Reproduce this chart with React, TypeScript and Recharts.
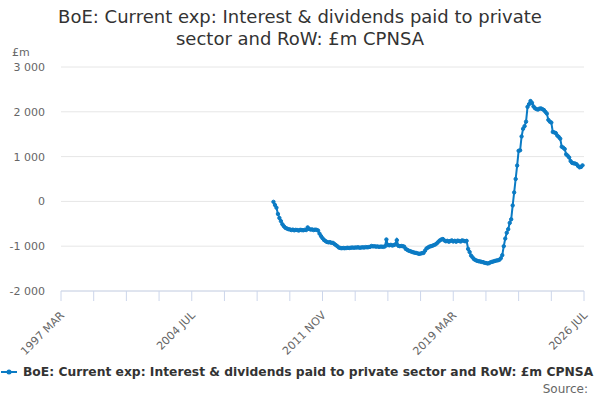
import React from 'react';
import { LineChart, Line, XAxis, YAxis, CartesianGrid } from 'recharts';

// monthly categories 1997 MAR .. 2026 JUL
const MONTHS = ['JAN', 'FEB', 'MAR', 'APR', 'MAY', 'JUN', 'JUL', 'AUG', 'SEP', 'OCT', 'NOV', 'DEC'];
const categories: string[] = [];
for (let y = 1997; y <= 2026; y++) {
  for (let m = 0; m < 12; m++) {
    if (y === 1997 && m < 2) continue;
    if (y === 2026 && m > 6) continue;
    categories.push(`${y} ${MONTHS[m]}`);
  }
}

// first observed month index (2009 FEB)
const firstIndex = 143;

const values = [
  -10, -80, -140, -280, -370, -440, -510, -555, -590, -605,
  -620, -625, -640, -630, -645, -635, -640, -650, -635, -640,
  -645, -635, -640, -580, -615, -630, -625, -640, -630, -635,
  -650, -720, -775, -820, -860, -885, -905, -915, -910, -925,
  -925, -950, -975, -1000, -1030, -1040, -1045, -1040, -1045, -1040,
  -1035, -1040, -1035, -1030, -1035, -1030, -1030, -1025, -1035, -1030,
  -1025, -1030, -1020, -1025, -1020, -1015, -995, -1005, -1000, -1010,
  -1005, -1015, -1010, -1010, -1015, -1005, -850, -975, -980, -970,
  -985, -975, -960, -865, -990, -1000, -995, -1000, -1010, -1060,
  -1080, -1100, -1110, -1125, -1135, -1145, -1150, -1160, -1170, -1165,
  -1155, -1150, -1100, -1050, -1030, -1010, -1000, -990, -975, -960,
  -935, -900, -870, -850, -840, -870, -890, -880, -900, -885,
  -870, -895, -880, -900, -875, -885, -895, -870, -880, -890,
  -880, -1060, -1130, -1210, -1250, -1290, -1310, -1325, -1335, -1340,
  -1350, -1355, -1370, -1375, -1385, -1380, -1360, -1350, -1340, -1330,
  -1320, -1315, -1305, -1270, -1200, -1000, -830, -700, -620, -480,
  -400, -90, 200, 500, 800, 1130, 1140, 1450, 1620, 1680,
  1780, 2110, 2170, 2240, 2200, 2120, 2080, 2060, 2050, 2070,
  2075, 2060, 2040, 2000, 1960, 1820, 1780, 1760, 1550, 1540,
  1525, 1470, 1440, 1400, 1220, 1200, 1170, 1050, 1020, 980,
  900, 860, 850, 845, 830, 790, 760, 770, 805,
];

const yTicks = [-2000, -1000, 0, 1000, 2000, 3000];
const labelledTicks = ['1997 MAR', '2004 JUL', '2011 NOV', '2019 MAR', '2026 JUL'];

const SERIES_NAME = 'BoE: Current exp: Interest & dividends paid to private sector and RoW: £m CPNSA';
const BLUE = '#0b7bc4';
const FONT = '"DejaVu Sans", sans-serif';

const data = categories.map((c, i) => {
  const v = i >= firstIndex ? values[i - firstIndex] : undefined;
  return { date: c, value: v === undefined ? null : v };
});

// tick marks every 22 months
const xTicks = categories.filter((_, i) => i % 22 === 0);

const fmt = (n: number) => {
  const s = Math.abs(n).toString().replace(/\B(?=(\d{3})+(?!\d))/g, ' ');
  return n < 0 ? `-${s}` : s;
};

const XTick = (props: any) => {
  const { x, y, payload } = props;
  if (!labelledTicks.includes(payload.value)) return null;
  return (
    <text
      x={x + 4}
      y={y + 13}
      textAnchor="end"
      fontSize={11}
      fill="#666"
      fontFamily={FONT}
      transform={`rotate(-45 ${x + 4} ${y + 13})`}
    >
      {payload.value}
    </text>
  );
};

export default function App() {
  return (
    <div
      style={{
        position: 'absolute',
        left: 0,
        top: 0,
        width: 600,
        height: 400,
        background: '#fff',
        fontFamily: FONT,
      }}
    >
      <div
        style={{
          position: 'absolute',
          top: 6,
          left: 40,
          width: 520,
          textAlign: 'center',
          fontSize: 18,
          lineHeight: '22px',
          color: '#333',
        }}
      >
        BoE: Current exp: Interest &amp; dividends paid to private sector and RoW: £m CPNSA
      </div>
      <div style={{ position: 'absolute', top: 46, left: 12, fontSize: 11, color: '#666' }}>£m</div>

      <LineChart
        width={600}
        height={400}
        data={data}
        margin={{ top: 67, right: 16, bottom: 49, left: 11 }}
      >
        <CartesianGrid vertical={false} stroke="#e6e6e6" />
        <XAxis
          dataKey="date"
          ticks={xTicks}
          interval={0}
          height={60}
          stroke="#ccd6eb"
          tickSize={10}
          tick={<XTick />}
        />
        <YAxis
          width={50}
          domain={[-2000, 3000]}
          ticks={yTicks}
          axisLine={false}
          tickLine={false}
          tickMargin={10}
          tickFormatter={fmt}
          tick={{ fontSize: 11, fill: '#666', fontFamily: FONT }}
        />
        <Line
          type="linear"
          dataKey="value"
          stroke={BLUE}
          strokeWidth={2}
          dot={{ r: 1.7, fill: BLUE, stroke: BLUE, strokeWidth: 1 }}
          connectNulls={false}
          isAnimationActive={false}
        />
      </LineChart>

      <div
        style={{
          position: 'absolute',
          top: 365,
          left: 1,
          display: 'flex',
          alignItems: 'center',
          whiteSpace: 'nowrap',
          fontSize: 12.3,
          fontWeight: 'bold',
          color: '#333',
        }}
      >
        <svg width={18} height={10} style={{ marginRight: 4 }}>
          <line x1={0} y1={5} x2={16} y2={5} stroke={BLUE} strokeWidth={2} />
          <circle cx={8} cy={5} r={2.5} fill={BLUE} />
        </svg>
        {SERIES_NAME}
      </div>
      <div style={{ position: 'absolute', top: 382, right: 12, fontSize: 12, color: '#666' }}>Source:</div>
    </div>
  );
}
